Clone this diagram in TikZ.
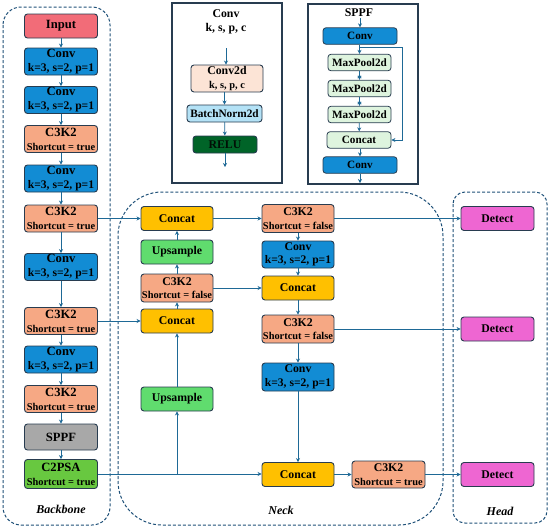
\documentclass[tikz,border=0pt]{standalone}
\usepackage{fontspec}
\setmainfont{Liberation Serif}
\usetikzlibrary{arrows.meta,calc}
\definecolor{cInput}{RGB}{242,108,120}
\definecolor{cConv}{RGB}{18,140,212}
\definecolor{cCthree}{RGB}{246,168,132}
\definecolor{cGray}{RGB}{168,168,168}
\definecolor{cCtwo}{RGB}{104,200,64}
\definecolor{cCat}{RGB}{255,192,0}
\definecolor{cUp}{RGB}{96,220,110}
\definecolor{cDet}{RGB}{238,102,210}
\definecolor{cPeach}{RGB}{252,228,214}
\definecolor{cBN}{RGB}{180,226,246}
\definecolor{cRelu}{RGB}{0,100,40}
\definecolor{cMP}{RGB}{222,244,222}
\definecolor{cEdge}{RGB}{40,60,80}
\definecolor{cLine}{RGB}{30,105,150}
\definecolor{cDash}{RGB}{30,80,120}
\newcommand{\subf}{\fontsize{10.4}{12}\selectfont}
\newcommand{\subk}{\fontsize{11.6}{12}\selectfont}
\tikzset{
  blk/.style={draw=cEdge, line width=0.9pt, rounded corners=3pt, minimum width=73pt,
    minimum height=26pt, inner sep=0pt, align=center, text=black,
    font=\fontsize{11.8}{13.5}\selectfont\bfseries},
  bb/.style={font=\fontsize{12.6}{14}\selectfont\bfseries},
  ar/.style={cLine, line width=0.8pt, -{Stealth[length=4pt,width=4pt]}},
  dbox/.style={draw=cDash, line width=1pt, dash pattern=on 3pt off 2pt},
  lbl/.style={font=\fontsize{12}{13}\selectfont\bfseries\itshape},
  conv/.style={blk, fill=cConv, minimum height=27pt},
  cthree/.style={blk, fill=cCthree, minimum height=27pt},
  cat/.style={blk, fill=cCat, minimum height=24pt, minimum width=72pt},
  ups/.style={blk, fill=cUp, minimum height=24pt, minimum width=72pt},
  det/.style={blk, fill=cDet, minimum height=24pt},
  small/.style={blk, line width=0.8pt, minimum height=16.5pt, font=\fontsize{11.2}{12}\selectfont\bfseries},
}
\begin{document}
\begin{tikzpicture}[x=1pt,y=-1pt]
\useasboundingbox (0,0) rectangle (550,531);
% group frames
\draw[dbox, rounded corners=18pt] (3,7) rectangle (110,525);
\draw[dbox, rounded corners=44pt] (118,192) rectangle (443,525);
\draw[dbox, rounded corners=12pt] (453,192) rectangle (547,523);
\draw[cEdge, line width=1.2pt] (172,3) rectangle (282,183);
\draw[cEdge, line width=1.2pt] (308,4) rectangle (418,184);

% backbone
\node[blk, bb, fill=cInput, minimum height=24pt] (in) at (61,26) {Input};
\node[conv, bb] (b1) at (61,61.5) {Conv\\{\subk k=3, s=2, p=1}};
\node[conv, bb] (b2) at (61,100) {Conv\\{\subk k=3, s=2, p=1}};
\node[cthree, bb] (b3) at (61,139) {C3K2\\{\subf Shortcut = true}};
\node[conv, bb] (b4) at (61,178.5) {Conv\\{\subk k=3, s=2, p=1}};
\node[cthree, bb] (b5) at (61,218.5) {C3K2\\{\subf Shortcut = true}};
\node[conv, bb] (b6) at (61,267) {Conv\\{\subk k=3, s=2, p=1}};
\node[cthree, bb] (b7) at (61,321) {C3K2\\{\subf Shortcut = true}};
\node[conv, bb] (b8) at (61,359.5) {Conv\\{\subk k=3, s=2, p=1}};
\node[cthree, bb] (b9) at (61,399) {C3K2\\{\subf Shortcut = true}};
\node[blk, bb, fill=cGray] (b10) at (61,437) {SPPF};
\node[blk, bb, fill=cCtwo, minimum height=29pt] (b11) at (61,474) {C2PSA\\{\subf Shortcut = true}};
\node[lbl] (lb) at (61,509) {Backbone};
\foreach \a/\b in {in/b1,b1/b2,b2/b3,b3/b4,b4/b5,b5/b6,b6/b7,b7/b8,b8/b9,b9/b10,b10/b11}
  \draw[ar] (\a) -- (\b);

% neck left column
\node[cat] (n1) at (177,218.5) {Concat};
\node[ups] (n2) at (177,252) {Upsample};
\node[cthree, minimum width=72pt, minimum height=28pt] (n3) at (177,288) {C3K2\\{\subf Shortcut = false}};
\node[cat] (n4) at (177,321) {Concat};
\node[ups] (n5) at (177,399) {Upsample};
% neck right column
\node[cthree, minimum width=72pt, minimum height=28pt] (r1) at (298,218.5) {C3K2\\{\subf Shortcut = false}};
\node[conv, minimum width=72pt] (r2) at (298,254.5) {Conv\\{\subk k=3, s=2, p=1}};
\node[cat] (r3) at (298,288) {Concat};
\node[cthree, minimum width=72pt, minimum height=28pt] (r4) at (298,329) {C3K2\\{\subf Shortcut = false}};
\node[conv, minimum width=72pt, minimum height=28pt] (r5) at (298,377) {Conv\\{\subk k=3, s=2, p=1}};
\node[cat] (r6) at (298,474.5) {Concat};
\node[cthree] (r7) at (388.5,474.5) {C3K2\\{\subf Shortcut = true}};
\node[lbl] (ln) at (281,510) {Neck};
% head
\node[det] (d1) at (497.5,218.5) {Detect};
\node[det] (d2) at (497.5,329) {Detect};
\node[det] (d3) at (497.5,474.5) {Detect};
\node[lbl] (lh) at (500,511) {Head};

% neck connectors
\draw[ar] (b5) -- (n1);
\draw[ar] (b7) -- (n4);
\draw[ar] (b11.east) -- (b11.east -| r6.west);
\draw[ar] (n5.south |- b11.east) -- (n5.south);
\draw[ar] (n5) -- (n4);
\draw[ar] (n4) -- (n3);
\draw[ar] (n3) -- (n2);
\draw[ar] (n2) -- (n1);
\draw[ar] (n1) -- (r1);
\draw[ar] (n3) -- (r3);
\draw[ar] (r1) -- (r2);
\draw[ar] (r2) -- (r3);
\draw[ar] (r3) -- (r4);
\draw[ar] (r4) -- (r5);
\draw[ar] (r5) -- (r6);
\draw[ar] (r6) -- (r7);
\draw[ar] (r1) -- (d1);
\draw[ar] (r4) -- (d2);
\draw[ar] (r7) -- (d3);

% Conv detail
\node[font=\fontsize{11.8}{14}\selectfont\bfseries, align=center] (ct) at (226,22) {Conv\\k, s, p, c};
\coordinate (cin) at (226,48);
\node[blk, fill=cPeach, minimum width=72pt, minimum height=27pt] (cd1) at (227,78.5) {Conv2d\\{\subf k, s, p, c}};
\node[blk, fill=cBN, minimum width=75pt, minimum height=17pt, font=\fontsize{11.3}{12}\selectfont\bfseries] (cd2) at (224.5,113.5) {BatchNorm2d};
\node[blk, fill=cRelu, minimum width=64pt, minimum height=17pt, text=black!85!cRelu] (cd3) at (225,144.5) {RELU};
\coordinate (cout) at (225,167);
\draw[ar] (cin) -- (cin |- cd1.north);
\draw[ar] (cd1.south -| cd2) -- (cd2);
\draw[ar] (cd2) -- (cd3);
\draw[ar] (cd3) -- (cout);

% SPPF detail
\node[font=\fontsize{11.8}{13}\selectfont\bfseries] (st) at (359,13) {SPPF};
\coordinate (sin) at (360,18);
\node[small, fill=cConv, minimum width=74pt] (sc1) at (360,36) {Conv};
\node[small, fill=cMP, minimum width=63pt] (sm1) at (359.5,62.5) {MaxPool2d};
\node[small, fill=cMP, minimum width=63pt] (sm2) at (359.5,88.5) {MaxPool2d};
\node[small, fill=cMP, minimum width=63pt] (sm3) at (359.5,114.5) {MaxPool2d};
\node[small, fill=cMP, minimum width=64pt] (scat) at (359,140) {Concat};
\node[small, fill=cConv, minimum width=74pt] (sc2) at (360,165) {Conv};
\coordinate (sout) at (360,183);
\coordinate (sv) at (402,47);
\draw[ar] (sin) -- (sc1);
\draw[ar] (sc1.south -| sm1) -- (sm1);
\draw[ar] (sm1) -- (sm2);
\draw[ar] (sm2) -- (sm3);
\draw[ar] (sm3) -- (scat);
\draw[ar] (scat.south -| sc2) -- (sc2);
\draw[ar] (sc2) -- (sout);
\draw[ar] (sm1.south |- sv) -- (sv) |- (scat.east);
\draw[ar] ($(sm1.south)!0.35!(sm2.north)$) -- ($(sm1.south)!0.35!(sm2.north)$ -| sv);
\draw[ar] ($(sm2.south)!0.35!(sm3.north)$) -- ($(sm2.south)!0.35!(sm3.north)$ -| sv);
\end{tikzpicture}
\end{document}
